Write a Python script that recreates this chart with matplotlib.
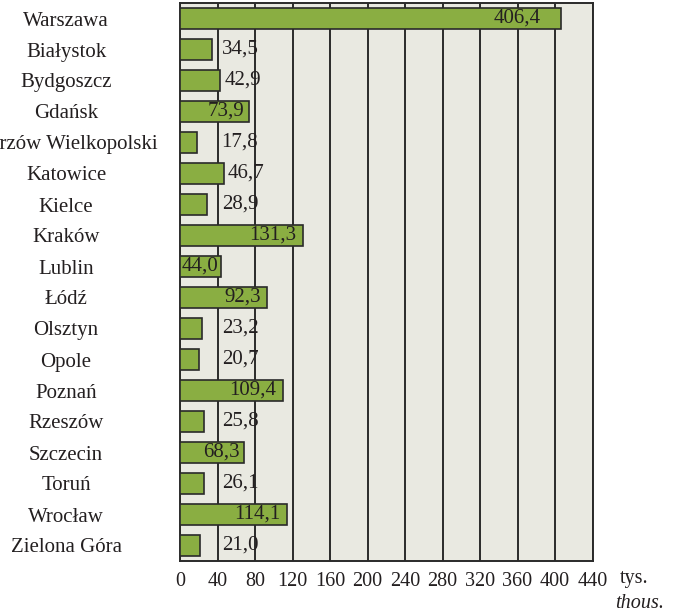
"""Horizontal bar chart: value per voivodeship capital, thousands."""

import matplotlib

matplotlib.use("Agg")
import matplotlib.pyplot as plt
import numpy as np

CITIES = [
    "Warszawa", "Białystok", "Bydgoszcz", "Gdańsk", "Gorzów Wielkopolski",
    "Katowice", "Kielce", "Kraków", "Lublin", "Łódź", "Olsztyn", "Opole",
    "Poznań", "Rzeszów", "Szczecin", "Toruń", "Wrocław", "Zielona Góra",
]
VALUES = [
    406.4, 34.5, 42.9, 73.9, 17.8, 46.7, 28.9, 131.3, 44.0, 92.3,
    23.2, 20.7, 109.4, 25.8, 68.3, 26.1, 114.1, 21.0,
]
# which value labels sit inside the bar (right-aligned) rather than after it
LABEL_INSIDE = [
    True, False, False, True, False, False, False, True, True, True,
    False, False, True, False, True, False, True, False,
]
XTICKS = list(range(0, 441, 40))

BAR_GREEN = "#8aae42"
PANEL_BG = "#e9e9e1"
INK = "#231f20"

plt.rcParams["font.family"] = ["Liberation Serif", "DejaVu Serif"]


def fmt(v: float) -> str:
    return f"{v:.1f}".replace(".", ",")


def main() -> None:
    fig = plt.figure(figsize=(6.73, 6.13), dpi=100)
    W, H = 673, 613
    left, right, top, bottom = 180, 592.5, 3, 561
    ax = fig.add_axes([left / W, 1 - bottom / H, (right - left) / W, (bottom - top) / H])
    ax.set_facecolor(PANEL_BG)

    y = np.arange(len(CITIES))
    ax.barh(y, VALUES, height=0.65, color=BAR_GREEN, edgecolor="#2a2a2a",
            linewidth=1.2, zorder=3)

    px_per_unit = (right - left) / 440
    for yi, v, inside in zip(y, VALUES, LABEL_INSIDE):
        if inside:
            # longer bars push their label a little further in from the end
            shift = (1 + 0.05 * v * px_per_unit) * 0.72
            ax.annotate(fmt(v), (v, yi), xytext=(-shift, 0), textcoords="offset points",
                        ha="right", va="center", fontsize=15, color=INK, zorder=4)
        else:
            ax.annotate(fmt(v), (max(v, 40), yi), xytext=(3, 0), textcoords="offset points",
                        ha="left", va="center", fontsize=15, color=INK, zorder=4)

    ax.set_xlim(0, 440)
    ax.set_ylim(len(CITIES) - 0.5, -0.5)
    ax.set_xticks(XTICKS)
    ax.set_xticklabels([str(t) for t in XTICKS], fontsize=14.5, color=INK)
    ax.set_yticks(y)
    ax.set_yticklabels(CITIES, fontsize=15, color=INK, ha="center")
    ax.tick_params(axis="x", length=0, pad=8)
    ax.tick_params(axis="y", length=0, pad=82)

    ax.grid(axis="x", color="#2a2a2a", linewidth=1.4, zorder=1)
    ax.set_axisbelow(True)
    for s in ax.spines.values():
        s.set_color("#2a2a2a")
        s.set_linewidth(1.4)

    fig.text(620 / W, 1 - 578 / H, "tys.", fontsize=14.5, color=INK,
             ha="left", va="center")
    fig.text(664 / W, 1 - 603 / H, "thous.", fontsize=14.5, color=INK,
             ha="right", va="center", style="italic")

    fig.savefig("out.png", dpi=100)
    plt.close(fig)


if __name__ == "__main__":
    main()
